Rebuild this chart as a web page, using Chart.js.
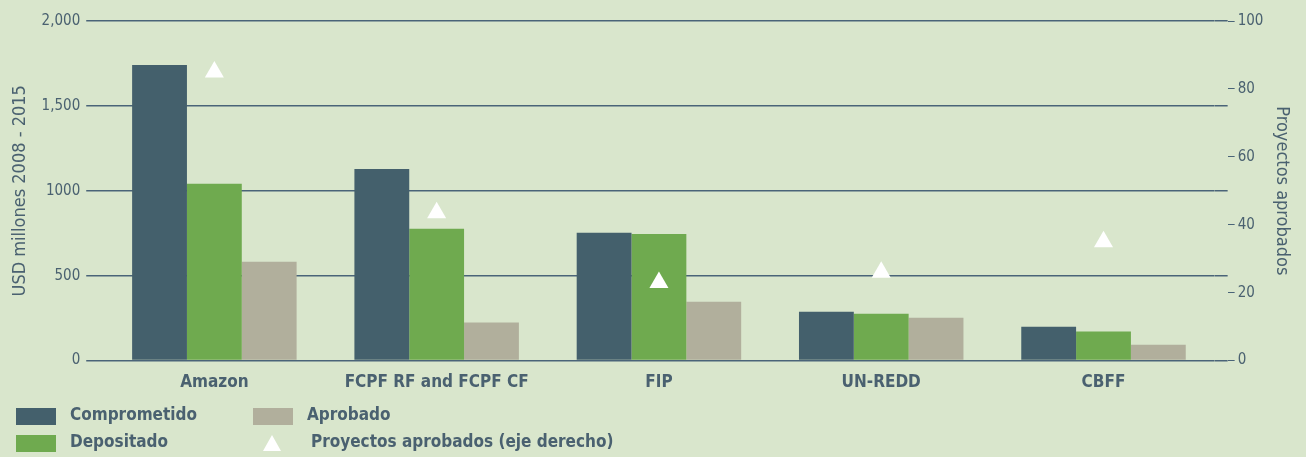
<!DOCTYPE html>
<html>
<head>
<meta charset="utf-8">
<script src="https://cdn.jsdelivr.net/npm/chart.js@4/dist/chart.umd.min.js"></script>
<style>
  body { margin: 0; background: #d9e6cc; }
  #wrap { position: relative; width: 1306px; height: 457px; }
  .lg { position: absolute; font-family: "DejaVu Sans Condensed", sans-serif; font-weight: bold; font-size: 17px; color: #4a6170; }
  .sw { position: absolute; width: 40px; height: 17px; }
  .tri { position: absolute; width: 0; height: 0; border-left: 9px solid transparent; border-right: 9px solid transparent; border-bottom: 16px solid #fff; }
</style>
</head>
<body>
<div id="wrap">
  <canvas id="chart" width="1306" height="457"></canvas>
  <div class="sw" style="left:16px;top:408px;background:#44606c"></div>
  <div class="lg" style="left:70px;top:404px">Comprometido</div>
  <div class="sw" style="left:16px;top:435px;background:#6faa4f"></div>
  <div class="lg" style="left:70px;top:431px">Depositado</div>
  <div class="sw" style="left:253px;top:408px;background:#b1af9c"></div>
  <div class="lg" style="left:307px;top:404px">Aprobado</div>
  <div class="tri" style="left:263px;top:435px"></div>
  <div class="lg" style="left:311px;top:431px">Proyectos aprobados (eje derecho)</div>
</div>
<script>
const categories = ["Amazon", "FCPF RF and FCPF CF", "FIP", "UN-REDD", "CBFF"];
const comprometido = [1741, 1129, 753, 288, 200];
const depositado = [1041, 776, 745, 276, 171];
const aprobado = [582, 224, 347, 253, 94];
const proyectos = [85, 43.5, 23, 26, 35];
const leftTicks = { 0: "0", 500: "500", 1000: "1000", 1500: "1,500", 2000: "2,000" };

const textColor = "#4a6170";
const gridColor = "#4a6478";
const font = "DejaVu Sans Condensed";

new Chart(document.getElementById("chart"), {
    data: {
        labels: categories,
        datasets: [
            {
                type: "line",
                label: "Proyectos aprobados (eje derecho)",
                data: proyectos,
                yAxisID: "y2",
                showLine: false,
                pointStyle: "triangle",
                pointRadius: 11,
                pointBackgroundColor: "#ffffff",
                pointBorderColor: "#ffffff",
                pointBorderWidth: 0,
                order: 0
            },
            { type: "bar", label: "Comprometido", data: comprometido, backgroundColor: "#44606c", yAxisID: "y", order: 1 },
            { type: "bar", label: "Depositado", data: depositado, backgroundColor: "#6faa4f", yAxisID: "y", order: 1 },
            { type: "bar", label: "Aprobado", data: aprobado, backgroundColor: "#b1af9c", yAxisID: "y", order: 1 }
        ]
    },
    options: {
        responsive: false,
        animation: false,
        layout: { padding: { left: 6, right: 10, top: 21, bottom: 60 } },
        plugins: { legend: { display: false }, tooltip: { enabled: false } },
        datasets: { bar: { categoryPercentage: 0.74, barPercentage: 1.0 } },
        scales: {
            x: {
                grid: { display: false },
                border: { display: false },
                ticks: { color: textColor, font: { family: font, size: 17, weight: "bold" }, padding: 4 }
            },
            y: {
                position: "left",
                min: 0, max: 2000,
                border: { display: false },
                grid: { color: gridColor, lineWidth: 1.5, tickLength: 17 },
                ticks: {
                    stepSize: 500,
                    color: textColor,
                    padding: 6,
                    font: { family: font, size: 15 },
                    callback: v => leftTicks[v]
                },
                title: { display: true, text: "USD millones 2008 - 2015", color: textColor, font: { family: font, size: 18 }, padding: 4 }
            },
            // mirror of the left axis, only to carry the gridlines on past the bars
            yr: {
                position: "right",
                weight: 0,
                min: 0, max: 2000,
                border: { display: false },
                grid: { drawOnChartArea: false, color: gridColor, lineWidth: 1.5, tickLength: 13 },
                ticks: { stepSize: 500, display: false }
            },
            y2: {
                position: "right",
                weight: 1,
                min: 0, max: 100,
                border: { display: false },
                grid: { drawOnChartArea: false, color: gridColor, tickLength: 7 },
                ticks: { stepSize: 20, color: textColor, padding: 3, font: { family: font, size: 15 } },
                title: { display: true, text: "Proyectos aprobados", color: textColor, font: { family: font, size: 18 }, padding: 4 }
            }
        }
    }
});
</script>
</body>
</html>
